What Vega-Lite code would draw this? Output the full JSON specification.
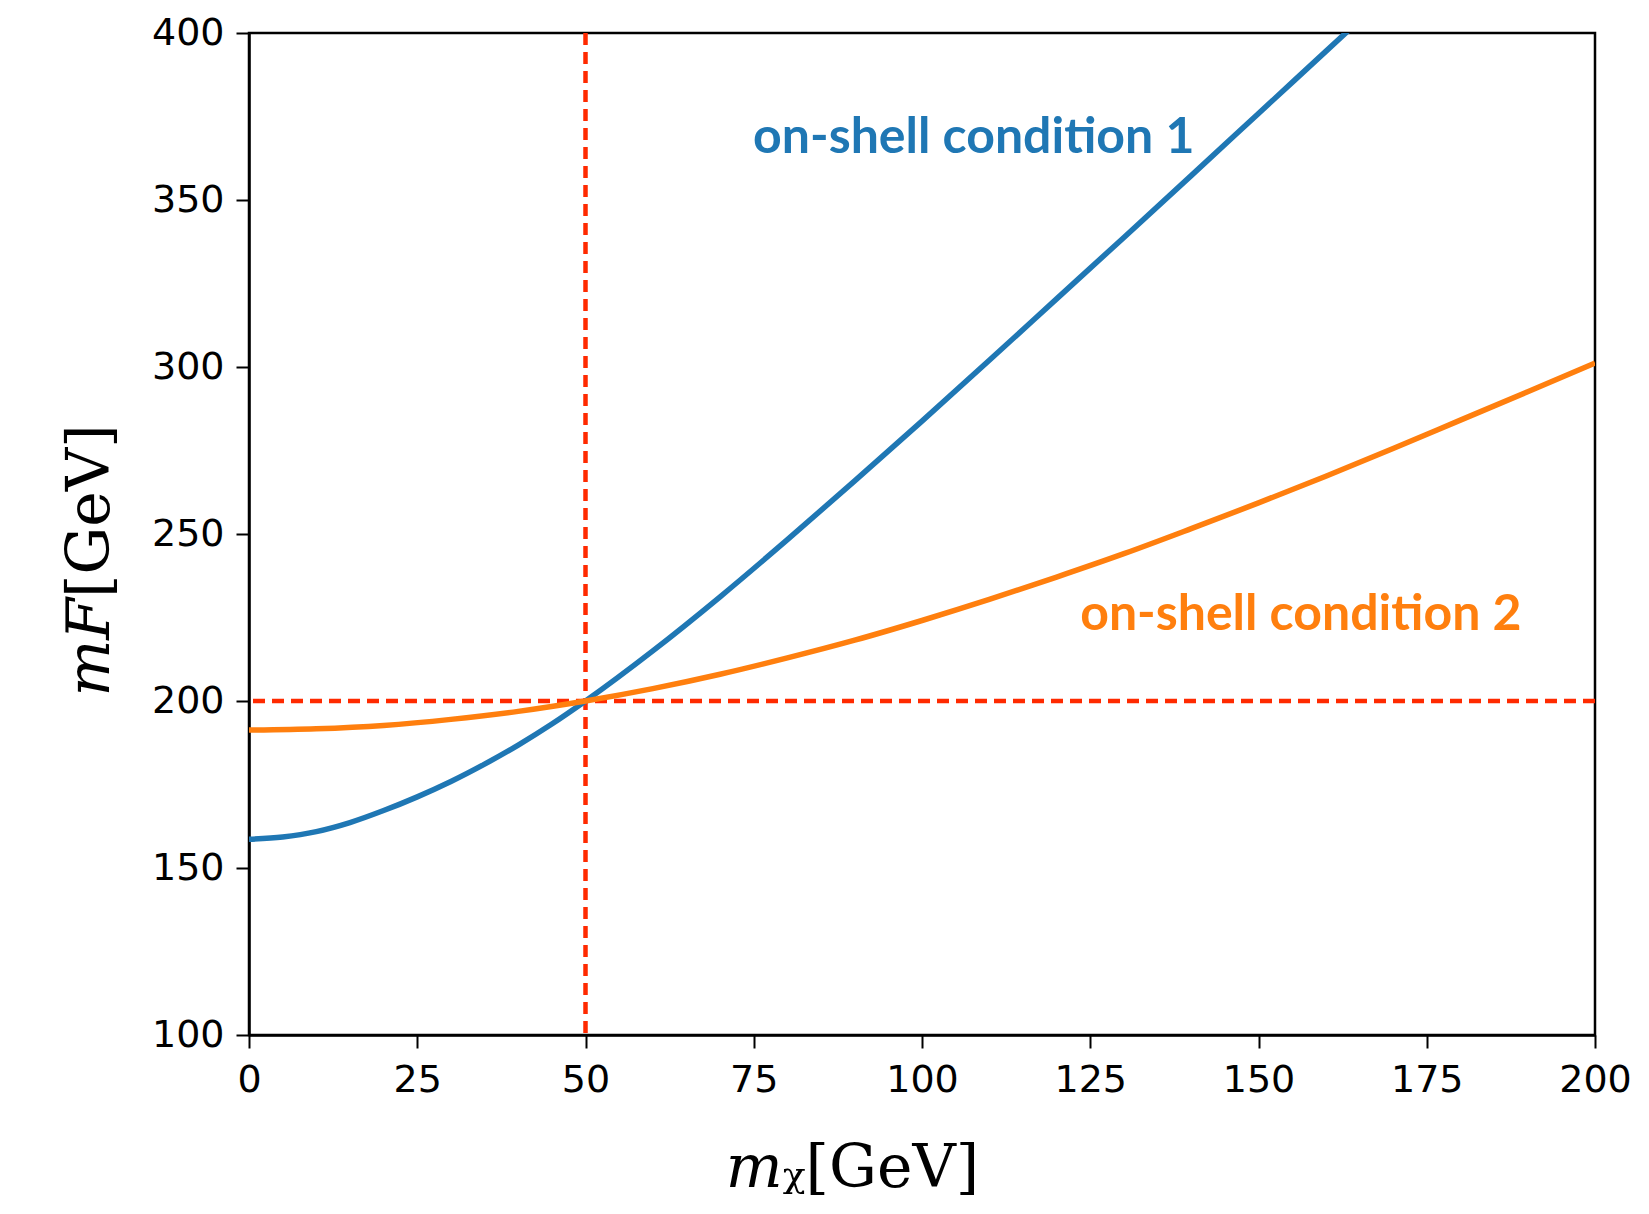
{
  "$schema": "https://vega.github.io/schema/vega-lite/v6.json",
  "width": 1346,
  "height": 1002,
  "autosize": {"type": "none"},
  "padding": {"left": 249, "top": 33, "right": 54, "bottom": 179},
  "background": "white",
  "config": {
    "view": {"stroke": "black", "strokeWidth": 2.5},
    "axis": {
      "domainColor": "black", "domainWidth": 2.5,
      "tickColor": "black", "tickWidth": 2, "tickSize": 13,
      "labelFont": "DejaVu Sans", "labelFontSize": 38, "labelColor": "black", "labelFlush": false, "labelOverlap": false,
      "titleFont": "DejaVu Serif", "titleFontSize": 60, "titleFontWeight": "normal", "titleColor": "black",
      "grid": false
    }
  },
  "datasets": {
    "curves": [
      {"m": 0, "v": 158.6, "c": "1"},
      {"m": 5, "v": 159.3, "c": "1"},
      {"m": 10, "v": 160.9, "c": "1"},
      {"m": 15, "v": 163.6, "c": "1"},
      {"m": 20, "v": 167.2, "c": "1"},
      {"m": 25, "v": 171.3, "c": "1"},
      {"m": 30, "v": 175.9, "c": "1"},
      {"m": 35, "v": 181.1, "c": "1"},
      {"m": 40, "v": 186.8, "c": "1"},
      {"m": 45, "v": 193.1, "c": "1"},
      {"m": 50, "v": 200.0, "c": "1"},
      {"m": 60, "v": 215.0, "c": "1"},
      {"m": 70, "v": 231.2, "c": "1"},
      {"m": 80, "v": 248.3, "c": "1"},
      {"m": 90, "v": 265.9, "c": "1"},
      {"m": 100, "v": 283.8, "c": "1"},
      {"m": 110, "v": 302.0, "c": "1"},
      {"m": 120, "v": 320.4, "c": "1"},
      {"m": 130, "v": 338.8, "c": "1"},
      {"m": 140, "v": 357.3, "c": "1"},
      {"m": 150, "v": 375.9, "c": "1"},
      {"m": 160, "v": 394.5, "c": "1"},
      {"m": 170, "v": 413.1, "c": "1"},
      {"m": 0, "v": 191.3, "c": "2"},
      {"m": 10, "v": 191.7, "c": "2"},
      {"m": 20, "v": 192.7, "c": "2"},
      {"m": 30, "v": 194.5, "c": "2"},
      {"m": 40, "v": 196.9, "c": "2"},
      {"m": 50, "v": 200.0, "c": "2"},
      {"m": 60, "v": 203.7, "c": "2"},
      {"m": 70, "v": 208.0, "c": "2"},
      {"m": 80, "v": 212.9, "c": "2"},
      {"m": 90, "v": 218.2, "c": "2"},
      {"m": 100, "v": 224.1, "c": "2"},
      {"m": 110, "v": 230.4, "c": "2"},
      {"m": 120, "v": 237.1, "c": "2"},
      {"m": 130, "v": 244.1, "c": "2"},
      {"m": 140, "v": 251.6, "c": "2"},
      {"m": 150, "v": 259.3, "c": "2"},
      {"m": 160, "v": 267.3, "c": "2"},
      {"m": 170, "v": 275.6, "c": "2"},
      {"m": 180, "v": 284.1, "c": "2"},
      {"m": 190, "v": 292.6, "c": "2"},
      {"m": 200, "v": 301.2, "c": "2"}
    ],
    "labels": [
      {"m": 74.9, "v": 364, "c": "1", "t": "on-shell condition 1"},
      {"m": 123.5, "v": 221.3, "c": "2", "t": "on-shell condition 2"}
    ]
  },
  "layer": [
    {
      "data": {"values": [{"x": 50}]},
      "mark": {"type": "rule", "color": "#ff2a00", "strokeWidth": 4.5, "strokeDash": [12, 7]},
      "encoding": {"x": {"field": "x", "type": "quantitative", "scale": {"domain": [0, 200]}}}
    },
    {
      "data": {"values": [{"y": 200}]},
      "mark": {"type": "rule", "color": "#ff2a00", "strokeWidth": 4.5, "strokeDash": [12, 7]},
      "encoding": {"y": {"field": "y", "type": "quantitative", "scale": {"domain": [100, 400]}}}
    },
    {
      "data": {"name": "curves"},
      "mark": {"type": "line", "interpolate": "monotone", "strokeWidth": 5.5, "clip": true},
      "encoding": {
        "x": {"field": "m", "type": "quantitative", "scale": {"domain": [0, 200], "nice": false},
          "axis": {"values": [0, 25, 50, 75, 100, 125, 150, 175, 200], "labelPadding": 13, "title": "𝑚ᵪ[GeV]", "titleX": 603, "titlePadding": 40}},
        "y": {"field": "v", "type": "quantitative", "scale": {"domain": [100, 400], "nice": false},
          "axis": {"values": [100, 150, 200, 250, 300, 350, 400], "labelPadding": 12, "title": "𝑚𝐹[GeV]", "titlePadding": 30, "titleY": 527}},
        "color": {"field": "c", "type": "nominal", "scale": {"domain": ["1", "2"], "range": ["#1f77b4", "#ff7f0e"]}, "legend": null},
        "detail": {"field": "c"}
      }
    },
    {
      "data": {"name": "labels"},
      "mark": {"type": "text", "font": "Lato", "fontWeight": "bold", "fontSize": 50, "align": "left", "baseline": "alphabetic"},
      "encoding": {
        "x": {"field": "m", "type": "quantitative"},
        "y": {"field": "v", "type": "quantitative"},
        "text": {"field": "t"},
        "color": {"field": "c", "type": "nominal", "scale": {"domain": ["1", "2"], "range": ["#1f77b4", "#ff7f0e"]}, "legend": null}
      }
    }
  ]
}
